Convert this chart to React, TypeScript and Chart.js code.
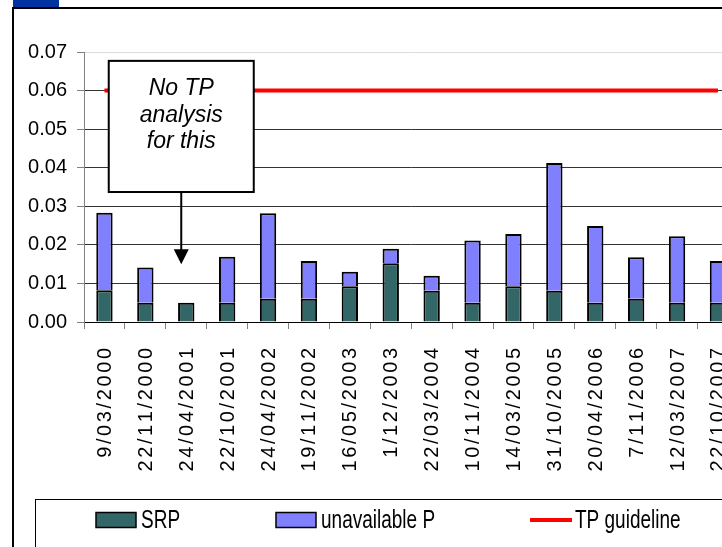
import React, { useEffect, useRef } from 'react';
import { Chart, registerables } from 'chart.js';

Chart.register(...registerables);

const categories = [
  '9/03/2000', '22/11/2000', '24/04/2001', '22/10/2001', '24/04/2002', '19/11/2002',
  '16/05/2003', '1/12/2003', '22/03/2004', '10/11/2004', '14/03/2005', '31/10/2005',
  '20/04/2006', '7/11/2006', '12/03/2007', '22/10/2007',
];
const srpValues = [
  0.0082, 0.005, 0.005, 0.005, 0.006, 0.006, 0.0093, 0.0152,
  0.0081, 0.005, 0.0093, 0.0081, 0.005, 0.006, 0.005, 0.005,
];
const unavailablePValues = [
  0.0201, 0.0091, null, 0.0119, 0.0222, 0.0098, 0.0037, 0.0038,
  0.0039, 0.0161, 0.0135, 0.0331, 0.0199, 0.0108, 0.0172, 0.0108,
];
const tpGuidelineValues = [
  0.06, 0.06, 0.06, 0.06, 0.06, 0.06, 0.06, 0.06,
  0.06, 0.06, 0.06, 0.06, 0.06, 0.06, 0.06, 0.06,
];
const seriesNames = ['SRP', 'unavailable P', 'TP guideline'];
const noteLines = ['No TP', 'analysis', 'for this'];
const noteCategoryIndex = 2;

const FONT = "'Liberation Sans', Arial, sans-serif";
const SRP_COLOR = '#336666';
const UNAV_COLOR = '#8080FF';
const RED = '#FF0000';

// x labels drawn with letter spacing (rotated, reading bottom to top)
const spacingPlugin = {
  id: 'xLetterSpacing',
  afterUpdate(chart: any) {
    const sc: any = chart.scales.x;
    if (sc && !sc.__wrapped) {
      sc.drawLabels = () => {
        const c: any = chart.ctx;
        const spacing = 2.6;
        c.save();
        c.font = `20px ${FONT}`;
        c.fillStyle = '#000';
        c.textBaseline = 'middle';
        c.textAlign = 'left';
        sc.ticks.forEach((t: any, i: number) => {
          const label = String(sc.getLabelForValue(t.value));
          const chars = Array.from(label);
          const widths = chars.map((ch) => c.measureText(ch).width);
          const total = widths.reduce((a: number, b: number) => a + b, 0) + spacing * (chars.length - 1);
          const x = sc.getPixelForTick(i);
          const yEnd = sc.top + 26;
          c.save();
          c.translate(x, yEnd);
          c.rotate(-Math.PI / 2);
          let pos = -total;
          chars.forEach((ch, k) => {
            c.fillText(ch, pos, 1);
            pos += widths[k] + spacing;
          });
          c.restore();
        });
        c.restore();
      };
      sc.__wrapped = true;
    }
  },
};

const decorPlugin = {
  id: 'decor',
  beforeDraw(chart: any) {
    const ctx = chart.ctx;
    ctx.save();
    ctx.fillStyle = '#ffffff';
    ctx.fillRect(0, 0, chart.width, chart.height);
    ctx.fillStyle = '#0033A0';
    ctx.fillRect(13, 0, 46, 7);
    ctx.strokeStyle = '#000';
    ctx.lineWidth = 2;
    ctx.strokeRect(13, 8, chart.width + 20, chart.height + 20);
    ctx.restore();
  },
  afterDraw(chart: any) {
    const ctx = chart.ctx;
    const xs = chart.scales.x;
    const ys = chart.scales.y;
    ctx.save();
    // legend box
    ctx.strokeStyle = '#000';
    ctx.lineWidth = 1;
    ctx.strokeRect(35.5, 499.5, chart.width, chart.height);
    const ly = 520;
    const items = [
      { x: 96, kind: 'box', color: SRP_COLOR },
      { x: 276, kind: 'box', color: UNAV_COLOR },
      { x: 530, kind: 'line', color: RED },
    ];
    items.forEach((it, i) => {
      if (it.kind === 'box') {
        ctx.fillStyle = it.color;
        ctx.fillRect(it.x, ly - 7.5, 40, 15);
        ctx.strokeStyle = '#000';
        ctx.lineWidth = 1.5;
        ctx.strokeRect(it.x, ly - 7.5, 40, 15);
      } else {
        ctx.strokeStyle = it.color;
        ctx.lineWidth = 4;
        ctx.beginPath();
        ctx.moveTo(it.x, ly);
        ctx.lineTo(it.x + 42, ly);
        ctx.stroke();
      }
      ctx.save();
      ctx.translate(it.x + 45, ly + 1);
      ctx.scale(0.76, 1);
      ctx.font = `25px ${FONT}`;
      ctx.textBaseline = 'middle';
      ctx.textAlign = 'left';
      ctx.fillStyle = '#000';
      ctx.fillText(seriesNames[i], 0, 0);
      ctx.restore();
    });
    // annotation
    const cx = xs.getPixelForValue(noteCategoryIndex) - 5;
    const top = ys.getPixelForValue(0.0677);
    const bottom = ys.getPixelForValue(0.0337);
    const tip = ys.getPixelForValue(0.015);
    const w = 145;
    ctx.fillStyle = '#fff';
    ctx.fillRect(cx - w / 2, top, w, bottom - top);
    ctx.strokeStyle = '#000';
    ctx.lineWidth = 2;
    ctx.strokeRect(cx - w / 2, top, w, bottom - top);
    ctx.fillStyle = '#000';
    ctx.font = `italic 23px ${FONT}`;
    ctx.textAlign = 'center';
    ctx.textBaseline = 'alphabetic';
    noteLines.forEach((t, i) => ctx.fillText(t, cx, top + 34 + i * 26.7));
    ctx.beginPath();
    ctx.moveTo(cx, bottom);
    ctx.lineTo(cx, tip - 12);
    ctx.stroke();
    ctx.beginPath();
    ctx.moveTo(cx - 7.5, tip - 15);
    ctx.lineTo(cx + 7.5, tip - 15);
    ctx.lineTo(cx, tip);
    ctx.closePath();
    ctx.fill();
    ctx.restore();
  },
};

export default function App() {
  const ref = useRef<HTMLCanvasElement | null>(null);
  useEffect(() => {
    if (!ref.current) return;
    const chart = new Chart(ref.current, {
      type: 'bar',
      data: {
        labels: categories,
        datasets: [
          {
            type: 'bar',
            label: seriesNames[0],
            data: srpValues,
            backgroundColor: SRP_COLOR,
            borderColor: '#000',
            borderWidth: 2,
            barPercentage: 0.4,
            categoryPercentage: 1,
            stack: 'p',
            order: 2,
          } as any,
          {
            type: 'bar',
            label: seriesNames[1],
            data: unavailablePValues,
            backgroundColor: UNAV_COLOR,
            borderColor: '#000',
            borderWidth: 2,
            barPercentage: 0.4,
            categoryPercentage: 1,
            stack: 'p',
            order: 2,
          } as any,
          {
            type: 'line',
            label: seriesNames[2],
            data: tpGuidelineValues,
            borderColor: RED,
            borderWidth: 4,
            pointRadius: 0,
            fill: false,
            stack: 'guide',
            order: 1,
          } as any,
        ],
      },
      options: {
        responsive: false,
        animation: false,
        devicePixelRatio: 1,
        layout: { padding: { left: 0, top: 52, right: 21.6, bottom: 0 } },
        plugins: {
          legend: { display: false },
          tooltip: { enabled: false },
          title: { display: false },
        },
        scales: {
          x: {
            type: 'category',
            offset: true,
            stacked: true,
            grid: {
              offset: true,
              drawOnChartArea: false,
              drawTicks: true,
              tickLength: 7,
              color: '#808080',
              tickColor: '#808080',
            },
            border: { color: '#000', width: 1 },
            ticks: {
              autoSkip: false,
              minRotation: 90,
              maxRotation: 90,
              padding: 17,
              color: '#000',
              font: { size: 20, family: FONT },
            },
            afterFit: (s: any) => {
              s.height = 278;
            },
          },
          y: {
            min: 0,
            max: 0.07,
            stacked: true,
            ticks: {
              stepSize: 0.01,
              callback: (v: any) => Number(v).toFixed(2),
              padding: 10,
              color: '#000',
              font: { size: 20, family: FONT },
            },
            grid: {
              color: (c: any) =>
                c.tick && Math.abs(c.tick.value - 0.07) < 1e-6 ? '#dcdcdc' : '#333333',
              tickColor: '#808080',
              tickLength: 7,
              drawTicks: true,
              lineWidth: 1,
            },
            border: { color: '#808080', width: 1 },
            afterFit: (s: any) => {
              s.width = 84;
            },
          },
        },
      } as any,
      plugins: [spacingPlugin, decorPlugin],
    });
    return () => chart.destroy();
  }, []);
  return (
    <div style={{ position: 'absolute', left: 0, top: 0, width: 722, height: 547, overflow: 'hidden', background: '#fff' }}>
      <canvas ref={ref} width={760} height={600} style={{ display: 'block' }} />
    </div>
  );
}
